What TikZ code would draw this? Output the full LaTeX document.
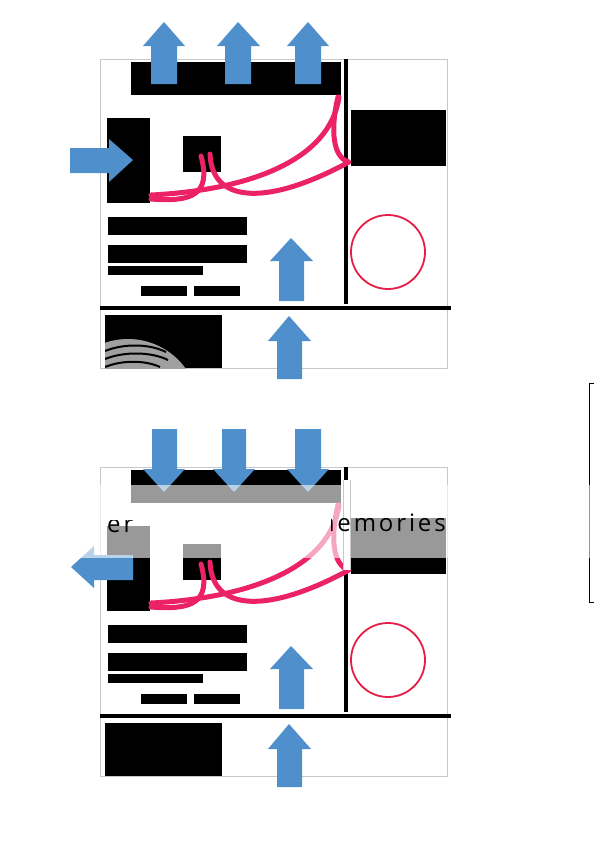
\documentclass[tikz,border=0pt]{standalone}
\usepackage{fontspec}
\newfontfamily\shotfont[LetterSpace=12]{Open Sans}
\definecolor{arrowblue}{RGB}{79,143,204}
\definecolor{scribblepink}{RGB}{236,34,102}
\definecolor{circlered}{RGB}{232,28,72}
\definecolor{framegray}{RGB}{200,200,200}
\definecolor{ringgray}{RGB}{160,160,160}
\tikzset{
  blockarrow/.style={fill=arrowblue},
  scribble/.style={draw=scribblepink, line width=5pt, line cap=round, line join=round},
  bar/.style={fill=black},
  rule/.style={line width=3.5pt},
  shottext/.style={inner sep=0pt, font=\shotfont\fontsize{24}{24}\selectfont},
}
\begin{document}
\begin{tikzpicture}[x=1pt, y=-1pt]
        \useasboundingbox (0,0) rectangle (594,844);

        % Both page mock-ups (same layout)
        \foreach \dy in {0,408} {
        \begin{scope}[shift={(0,\dy)}]
        \draw[framegray, line width=0.8pt] (100,59) rectangle (447,368);
        \fill[bar] (131,62) rectangle (341,95);
        \fill[bar] (107,118) rectangle (150,203);
        \fill[bar] (183,136) rectangle (221,172);
        \fill[bar] (351,110) rectangle (446,166);
        \fill[bar] (108,217) rectangle (247,235);
        \fill[bar] (108,245) rectangle (247,263);
        \fill[bar] (108,266) rectangle (203,275);
        \fill[bar] (141,286) rectangle (187,296);
        \fill[bar] (194,286) rectangle (240,296);
        \fill[bar] (105,315) rectangle (222,368);
        \draw[rule] (346,59) -- (346,304);
        \draw[rule] (100,308) -- (451,308);
        \draw[circlered, line width=1.8pt] (388,252) circle (37);
        % Scribbles
        \draw[scribble] (151,199) .. controls (190,202) and (212,196) .. (201,156);
        \draw[scribble] (151,195) .. controls (250,190) and (330,160) .. (339,97);
        \draw[scribble] (210,154) .. controls (212,205) and (270,205) .. (349,162)
            .. controls (333,158) and (330,130) .. (338,97);
        \end{scope}
        }

        % Ring logo in the first picture box
        \begin{scope}
        \clip (105,315) rectangle (222,368);
        \fill[ringgray] (128,410) circle (71);
        \draw[line width=2pt] (105,351) .. controls (125,343) and (150,344) .. (166,352);
        \draw[line width=2pt] (105,359) .. controls (125,351) and (152,352) .. (168,360);
        \draw[line width=2pt] (105,367) .. controls (122,360) and (145,360) .. (160,367);
        \end{scope}

        % Upper page arrows
        \fill[blockarrow] (151,84) -- (151,46) -- (143,46) -- (164,22) -- (185,46) -- (177,46) -- (177,84) -- cycle;
        \fill[blockarrow] (225,84) -- (225,46) -- (217,46) -- (238,22) -- (260,46) -- (251,46) -- (251,84) -- cycle;
        \fill[blockarrow] (295,84) -- (295,46) -- (287,46) -- (308,22) -- (329,46) -- (321,46) -- (321,84) -- cycle;
        \fill[blockarrow] (70,148) -- (109,148) -- (109,139) -- (133,160) -- (109,182) -- (109,173) -- (70,173) -- cycle;
        \fill[blockarrow] (279,301) -- (279,261) -- (270,261) -- (291,238) -- (313,261) -- (304,261) -- (304,301) -- cycle;
        \fill[blockarrow] (277,379) -- (277,341) -- (268,341) -- (289,316) -- (311,341) -- (302,341) -- (302,379) -- cycle;

        % Lower page arrows
        \fill[blockarrow] (152,429) -- (152,469) -- (143,469) -- (164,492) -- (185,469) -- (177,469) -- (177,429) -- cycle;
        \fill[blockarrow] (222,429) -- (222,469) -- (213,469) -- (234,492) -- (255,469) -- (246,469) -- (246,429) -- cycle;
        \fill[blockarrow] (295,429) -- (295,469) -- (287,469) -- (308,492) -- (329,469) -- (321,469) -- (321,429) -- cycle;
        \fill[blockarrow] (133,555) -- (94,555) -- (94,546) -- (71,567) -- (94,588) -- (94,580) -- (133,580) -- cycle;
        \fill[blockarrow] (279,709) -- (279,669) -- (270,669) -- (291,646) -- (313,669) -- (304,669) -- (304,709) -- cycle;
        \fill[blockarrow] (277,787) -- (277,749) -- (268,749) -- (289,724) -- (311,749) -- (302,749) -- (302,787) -- cycle;

        % Bracket at the right edge
        \draw[line width=0.8pt] (594,383) -- (589,383) -- (589,602) -- (594,602);

        % Faded band over the lower page
        \fill[white, opacity=0.6] (65,485) rectangle (594,558);
        \fill[white] (343,480) rectangle (350,570);
        \draw[framegray, line width=0.5pt] (343,480) -- (343,570) (350,480) -- (350,570);
        \begin{scope}
        \clip (100,520) rectangle (160,540);
        \node[shottext, anchor=base west] (ertext) at (107,532) {er};
        \end{scope}
        \begin{scope}
        \clip (331,500) rectangle (450,540);
        \node[shottext, anchor=base east] (memtext) at (446,531) {memories};
        \end{scope}
\end{tikzpicture}
\end{document}
